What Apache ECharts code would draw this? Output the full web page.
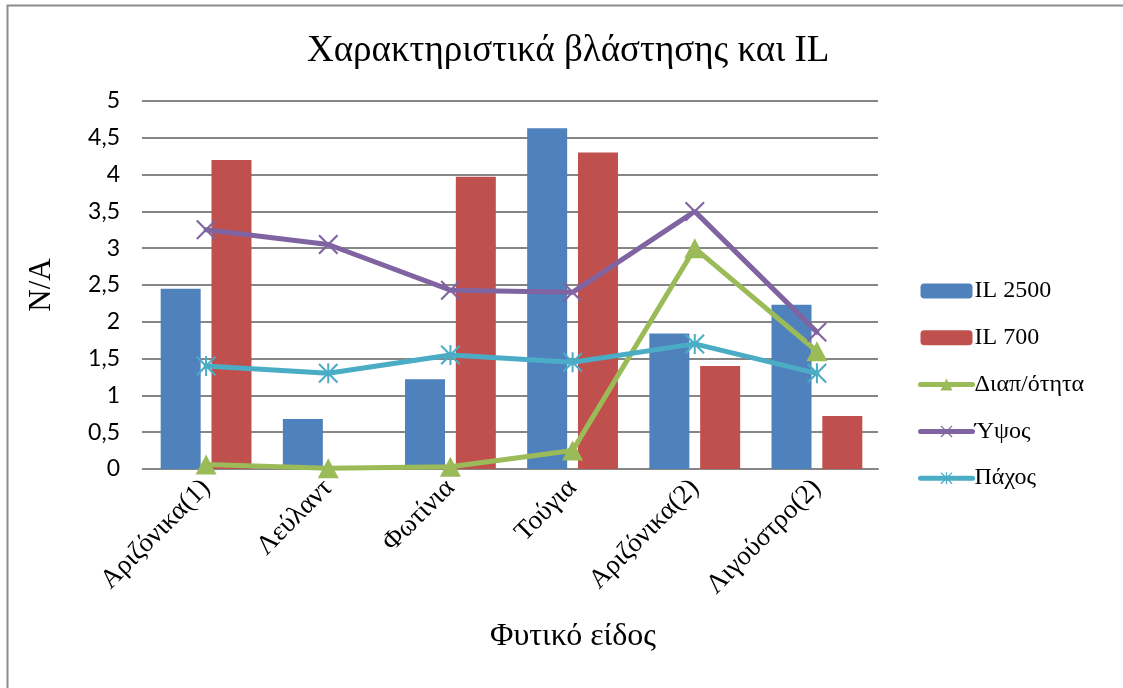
<!DOCTYPE html>
<html>
<head>
<meta charset="utf-8">
<script src="https://cdn.jsdelivr.net/npm/echarts@6/dist/echarts.min.js"></script>
<style>
  html, body { margin: 0; padding: 0; background: #fff; }
  #chart { width: 1123px; height: 688px; }
</style>
</head>
<body>
<div id="chart"></div>
<script>
// Plant species on the category axis
const categories = ['Αριζόνικα(1)', 'Λεύλαντ', 'Φωτίνια', 'Τούγια', 'Αριζόνικα(2)', 'Λιγούστρο(2)'];

// Bar series
const il2500 = [2.45, 0.68, 1.22, 4.63, 1.84, 2.23];
const il700 = [4.2, 0, 3.97, 4.3, 1.4, 0.72];

// Line series
const diapotita = [0.06, 0.01, 0.03, 0.25, 3.0, 1.6];
const ypsos = [3.25, 3.05, 2.43, 2.4, 3.5, 1.86];
const pachos = [1.4, 1.3, 1.55, 1.45, 1.7, 1.3];

const seriesNames = ['IL 2500', 'IL 700', 'Διαπ/ότητα', 'Ύψος', 'Πάχος'];
const colors = ['#4F81BD', '#C0504D', '#9BBB59', '#8064A2', '#4BACC6'];

// Marker shapes: a thin "x" and an asterisk (x plus a vertical stroke)
const crossPath = 'path://M0,1.5L1.5,0L20,18.5L18.5,20Z M18.5,0L20,1.5L1.5,20L0,18.5Z';
const starPath = 'path://M0,1.5L1.5,0L20,18.5L18.5,20Z M18.5,0L20,1.5L1.5,20L0,18.5Z M9,0L11,0L11,20L9,20Z';

const serif = '"Liberation Serif", "Times New Roman", serif';

const chart = echarts.init(document.getElementById('chart'), null, { renderer: 'canvas' });

chart.setOption({
  backgroundColor: '#ffffff',
  animation: false,
  title: {
    text: 'Χαρακτηριστικά βλάστησης και IL',
    left: 302,
    top: 28,
    textStyle: { fontFamily: serif, fontSize: 37, fontWeight: 'normal', color: '#000' }
  },
  legend: {
    orient: 'vertical',
    left: 913,
    top: 274,
    itemWidth: 52,
    itemHeight: 15,
    itemGap: 22.8,
    data: seriesNames.map((n, i) => ({
      name: n,
      itemStyle: { color: colors[i] },
      lineStyle: { color: colors[i], width: 5, cap: 'round' }
    })),
    textStyle: { fontFamily: serif, fontSize: 24, color: '#000', lineHeight: 20, padding: [0, 0, 0, -3] }
  },
  grid: { left: 145, right: 245, top: 101, bottom: 219, containLabel: false },
  xAxis: {
    type: 'category',
    data: categories,
    axisLine: { lineStyle: { color: '#868686', width: 2 } },
    axisTick: { show: false },
    axisLabel: {
      rotate: 45,
      margin: 15,
      fontFamily: serif,
      fontSize: 27,
      color: '#000',
      interval: 0
    }
  },
  yAxis: {
    type: 'value',
    min: 0,
    max: 5,
    interval: 0.5,
    name: 'N/A',
    nameLocation: 'middle',
    nameGap: 88,
    nameTextStyle: { fontFamily: serif, fontSize: 31, color: '#000' },
    axisLine: { show: false },
    axisTick: { show: true, length: 3, lineStyle: { color: '#868686', width: 2 } },
    splitLine: { lineStyle: { color: '#868686', width: 2 } },
    axisLabel: {
      margin: 25,
      fontFamily: 'Lato, "Open Sans", sans-serif',
      fontSize: 23,
      color: '#000',
      formatter: v => String(v).replace('.', ',')
    }
  },
  graphic: [
    {
      type: 'text',
      left: 490,
      top: 621,
      style: { text: 'Φυτικό είδος', font: '32px ' + serif, fill: '#000' }
    },
    {
      type: 'polyline',
      shape: { points: [[7.5, 688], [7.5, 5.5], [1123, 5.5]] },
      style: { stroke: '#8c8c8c', lineWidth: 2, fill: null }
    }
  ],
  series: [
    {
      name: 'IL 2500', type: 'bar', data: il2500, barWidth: 40, barGap: '27%',
      itemStyle: { color: colors[0] }
    },
    {
      name: 'IL 700', type: 'bar', data: il700, barWidth: 40, barGap: '27%',
      itemStyle: { color: colors[1] }
    },
    {
      name: 'Διαπ/ότητα', type: 'line', data: diapotita, z: 3,
      symbol: 'triangle', symbolSize: [21, 20], showAllSymbol: true,
      lineStyle: { color: colors[2], width: 5, cap: 'round' }, itemStyle: { color: colors[2] }
    },
    {
      name: 'Ύψος', type: 'line', data: ypsos, z: 3,
      symbol: crossPath, symbolSize: 20, showAllSymbol: true,
      lineStyle: { color: colors[3], width: 5, cap: 'round' }, itemStyle: { color: colors[3] }
    },
    {
      name: 'Πάχος', type: 'line', data: pachos, z: 3,
      symbol: starPath, symbolSize: 20, showAllSymbol: true,
      lineStyle: { color: colors[4], width: 5, cap: 'round' }, itemStyle: { color: colors[4] }
    }
  ]
});
</script>
</body>
</html>
